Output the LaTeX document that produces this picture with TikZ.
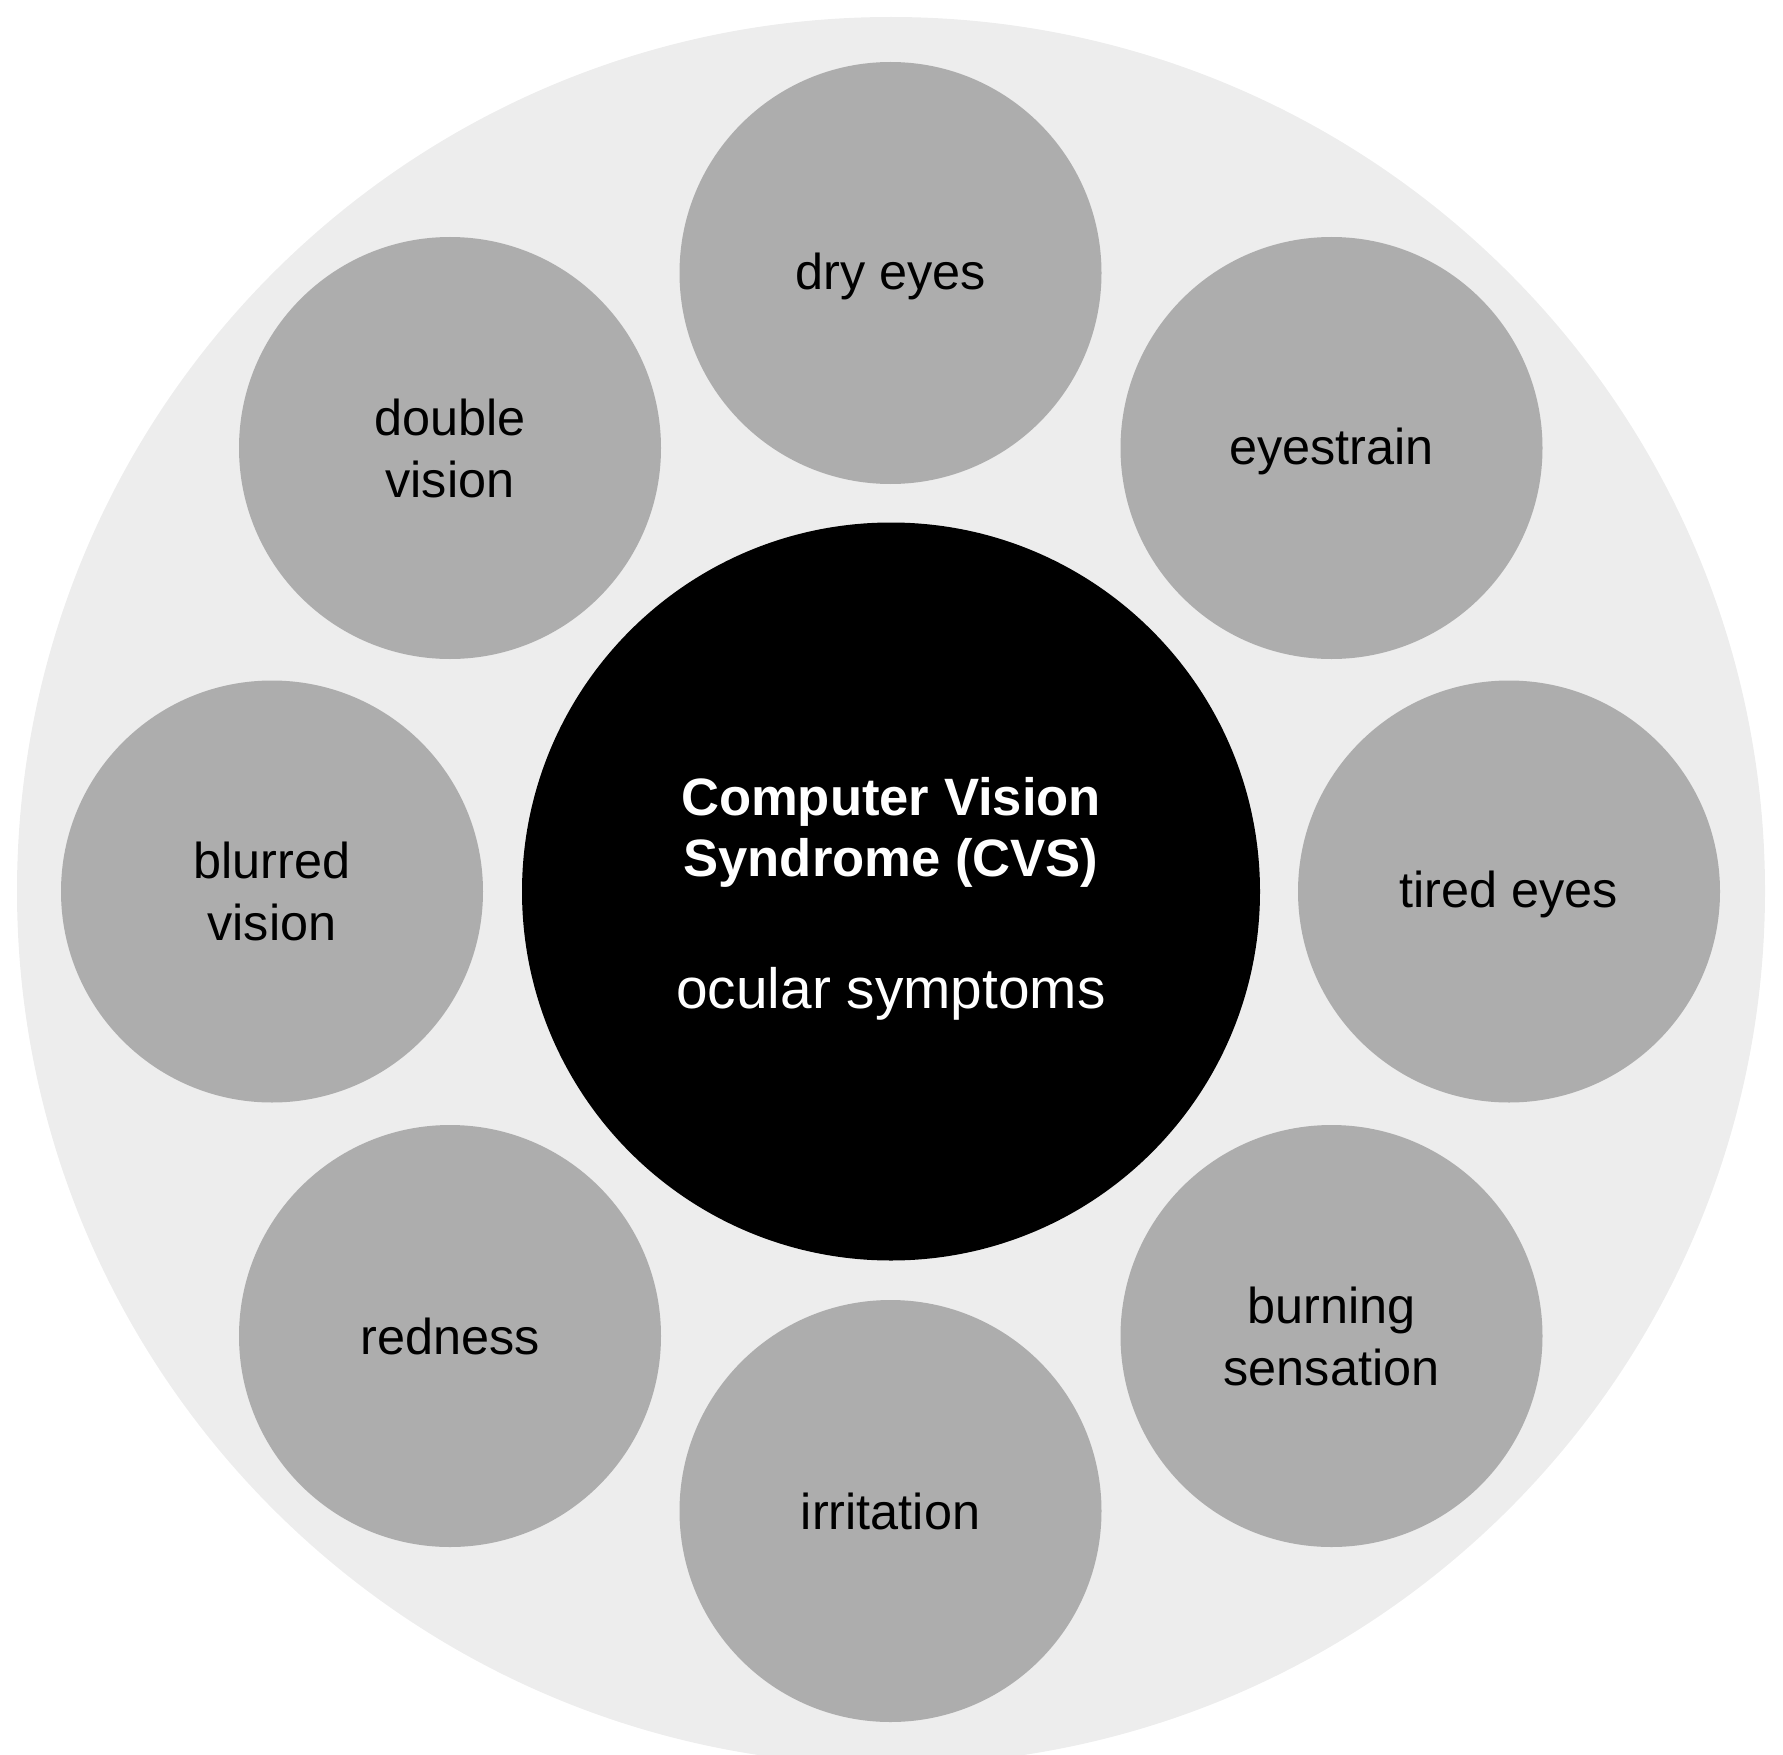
\documentclass[tikz,border=0pt]{standalone}
\usepackage{fontspec}
\setmainfont{Liberation Sans}
\definecolor{ringbg}{HTML}{EDEDED}
\definecolor{satfill}{HTML}{ADADAD}
\begin{document}
\begin{tikzpicture}[x=0.5pt,y=-0.5pt,
  sat/.style={circle,fill=satfill,minimum size=211pt,inner sep=0pt,align=center,
    font=\fontsize{25.2}{31}\selectfont,text=black},
  lowdesc/.style={text depth=1.9pt},
  hub/.style={circle,fill=black,minimum size=369pt,inner sep=0pt},
  hubtitle/.style={anchor=base,inner sep=0pt,text=white,
    font=\fontsize{26.3}{31}\selectfont\bfseries},
  hubsub/.style={anchor=base,inner sep=0pt,text=white,
    font=\fontsize{28.4}{31}\selectfont}]
  \useasboundingbox (0,0) rectangle (1783,1755);
  \begin{scope}
    \clip (0,0) rectangle (1783,1755);
    \fill[ringbg] (891,891) circle [radius=437pt];
  \end{scope}
  % central node and its three lines of text
  \node[hub] (cvs) at (891,891.5) {};
  \node[hubtitle] (cvsa) at (891,815) {Computer Vision};
  \node[hubtitle] (cvsb) at (891,876.5) {Syndrome (CVS)};
  \node[hubsub]   (cvsc) at (891,1008) {ocular symptoms};
  % surrounding symptoms
  \node[sat,lowdesc] (dry)    at (890.5,273)  {dry eyes};
  \node[sat,lowdesc] (strain) at (1331.5,448) {eyestrain};
  \node[sat,lowdesc] (tired)  at (1509,891.5) {tired eyes};
  \node[sat] (burn)    at (1331.5,1336){burning\\sensation};
  \node[sat] (irrit)   at (890.5,1511) {irritation};
  \node[sat] (red)     at (450,1336)   {redness};
  \node[sat] (blur)    at (272,891.5)  {blurred\\vision};
  \node[sat] (double)  at (450,448)    {double\\vision};
\end{tikzpicture}
\end{document}
